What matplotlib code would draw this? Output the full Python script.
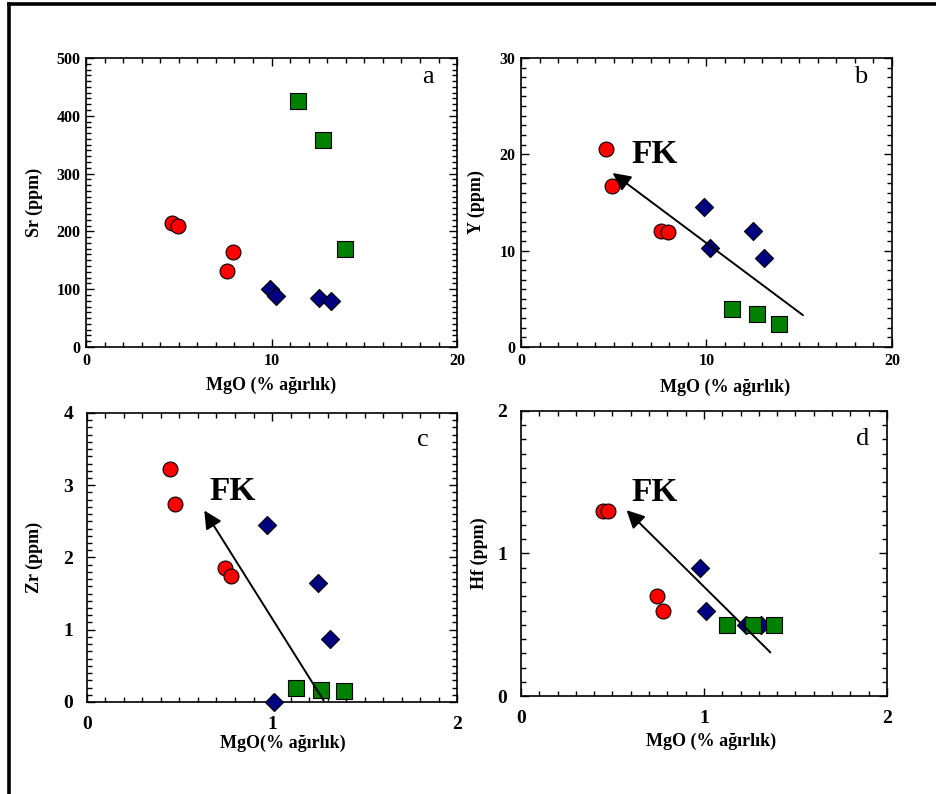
import matplotlib
matplotlib.use("Agg")
import matplotlib.pyplot as plt
from matplotlib.lines import Line2D
from matplotlib.ticker import MultipleLocator

plt.rcParams['font.family'] = ['Liberation Serif', 'DejaVu Serif']

# a: Sr vs MgO
red_mgo_a = [4.66, 4.95, 7.59, 7.93]
red_sr = [214, 209, 131, 164]
blue_mgo_a = [9.93, 10.25, 12.57, 13.2]
blue_sr = [101, 88, 85, 79]
green_mgo_a = [11.42, 12.8, 13.94]
green_sr = [425, 358, 170]

# b: Y vs MgO
red_mgo_b = [4.61, 4.88, 7.54, 7.9]
red_y = [20.6, 16.7, 12.0, 11.9]
blue_mgo_b = [9.87, 10.18, 12.51, 13.1]
blue_y = [14.5, 10.3, 12.0, 9.2]
green_mgo_b = [11.36, 12.73, 13.9]
green_y = [3.9, 3.4, 2.35]

# c: Zr vs MgO
red_mgo_c = [0.45, 0.476, 0.744, 0.777]
red_zr = [3.23, 2.74, 1.86, 1.74]
blue_mgo_c = [0.975, 1.247, 1.312, 1.013]
blue_zr = [2.45, 1.65, 0.87, 0.0]
green_mgo_c = [1.13, 1.267, 1.387]
green_zr = [0.2, 0.17, 0.15]

# d: Hf vs MgO
red_mgo_d = [0.446, 0.477, 0.742, 0.777]
red_hf = [1.3, 1.3, 0.7, 0.6]
blue_mgo_d = [0.977, 1.012, 1.232, 1.314]
blue_hf = [0.9, 0.6, 0.5, 0.5]
green_mgo_d = [1.128, 1.268, 1.383]
green_hf = [0.5, 0.5, 0.5]

# FK trend arrows (tail -> head) and label spot
fk_b = [(15.2, 3.3), (4.94, 18.06), (5.96, 19.97)]
fk_c = [(1.279, 0.02), (0.634, 2.65), (0.663, 2.91)]
fk_d = [(1.363, 0.306), (0.577, 1.304), (0.604, 1.425)]


def setup_axes(ax, xmax, ymax, ymajor, xminor, yminor, tick_size, pad):
    ax.set_xlim(0, xmax)
    ax.set_ylim(0, ymax)
    ax.xaxis.set_major_locator(MultipleLocator(xmax / 2))
    ax.yaxis.set_major_locator(MultipleLocator(ymajor))
    ax.xaxis.set_minor_locator(MultipleLocator(xminor))
    ax.yaxis.set_minor_locator(MultipleLocator(yminor))
    ax.tick_params(which='both', direction='in', top=True, right=True, width=1.0)
    ax.tick_params(which='major', length=6, labelsize=tick_size, pad=pad)
    ax.tick_params(which='minor', length=3.5)
    for lab in ax.get_xticklabels() + ax.get_yticklabels():
        lab.set_fontweight('bold')
    for sp in ax.spines.values():
        sp.set_linewidth(1.2)


def draw_points(ax, rx, ry, bx, by, gx, gy):
    ax.scatter(rx, ry, s=115, marker='o', c='#ff0000', edgecolors='black', linewidths=0.8, zorder=3, clip_on=False)
    ax.scatter(bx, by, s=85, marker='D', c='#000080', edgecolors='black', linewidths=0.8, zorder=3, clip_on=False)
    ax.scatter(gx, gy, s=135, marker='s', c='#008000', edgecolors='black', linewidths=0.8, zorder=4, clip_on=False)


def draw_fk(ax, fk):
    ax.annotate('', xy=fk[1], xytext=fk[0],
                arrowprops=dict(arrowstyle='-|>,head_length=0.6,head_width=0.3', mutation_scale=18,
                                color='black', lw=1.4, shrinkA=0, shrinkB=0), zorder=5)
    ax.text(fk[2][0], fk[2][1], 'FK', fontsize=24, fontweight='bold', ha='left', va='center')


fig = plt.figure(figsize=(9.37, 7.94), dpi=100)

ax_a = fig.add_axes([0.0918, 0.563, 0.396, 0.364])
ax_b = fig.add_axes([0.556, 0.563, 0.396, 0.364])
ax_c = fig.add_axes([0.0928, 0.1159, 0.395, 0.364])
ax_d = fig.add_axes([0.556, 0.1234, 0.3906, 0.359])

setup_axes(ax_a, 20, 500, 100, 1, 10, 11.5, 4)
setup_axes(ax_b, 20, 30, 10, 1, 1, 11.5, 4)
setup_axes(ax_c, 2, 4, 1, 0.1, 0.1, 14, 10)
setup_axes(ax_d, 2, 2, 1, 0.1, 0.1, 14, 10)

draw_points(ax_a, red_mgo_a, red_sr, blue_mgo_a, blue_sr, green_mgo_a, green_sr)
draw_points(ax_b, red_mgo_b, red_y, blue_mgo_b, blue_y, green_mgo_b, green_y)
draw_points(ax_c, red_mgo_c, red_zr, blue_mgo_c, blue_zr, green_mgo_c, green_zr)
draw_points(ax_d, red_mgo_d, red_hf, blue_mgo_d, blue_hf, green_mgo_d, green_hf)

draw_fk(ax_b, fk_b)
draw_fk(ax_c, fk_c)
draw_fk(ax_d, fk_d)

ax_a.text(18.45, 467, 'a', fontsize=19, ha='center', va='center')
ax_b.text(18.3, 28.0, 'b', fontsize=19, ha='center', va='center')
ax_c.text(1.816, 3.62, 'c', fontsize=19, ha='center', va='center')
ax_d.text(1.869, 1.8, 'd', fontsize=19, ha='center', va='center')

lab_font = dict(fontsize=13, fontweight='bold')
ax_a.set_ylabel('Sr (ppm)', **lab_font)
ax_b.set_ylabel('Y (ppm)', **lab_font)
ax_c.set_ylabel('Zr (ppm)', **lab_font)
ax_d.set_ylabel('Hf (ppm)', **lab_font)
ax_a.set_xlabel('MgO (% ağırlık)', **lab_font)
ax_b.set_xlabel('MgO (% ağırlık)', **lab_font)
ax_c.set_xlabel('MgO(% ağırlık)', **lab_font)
ax_d.set_xlabel('MgO (% ağırlık)', **lab_font)

ax_a.yaxis.set_label_coords(-0.116, 0.5)
ax_b.yaxis.set_label_coords(-0.097, 0.5)
ax_c.yaxis.set_label_coords(-0.119, 0.5)
ax_d.yaxis.set_label_coords(-0.09, 0.5)
ax_a.xaxis.set_label_coords(0.5, -0.104)
ax_b.xaxis.set_label_coords(0.55, -0.11)
ax_c.xaxis.set_label_coords(0.53, -0.114)
ax_d.xaxis.set_label_coords(0.52, -0.13)

# outer frame: top and left edges only
fig.add_artist(Line2D([0.0101, 1.0], [0.995, 0.995], color='black', lw=2.6))
fig.add_artist(Line2D([0.0101, 0.0101], [0.0, 0.995], color='black', lw=2.6))

fig.savefig('out.png', dpi=100)
